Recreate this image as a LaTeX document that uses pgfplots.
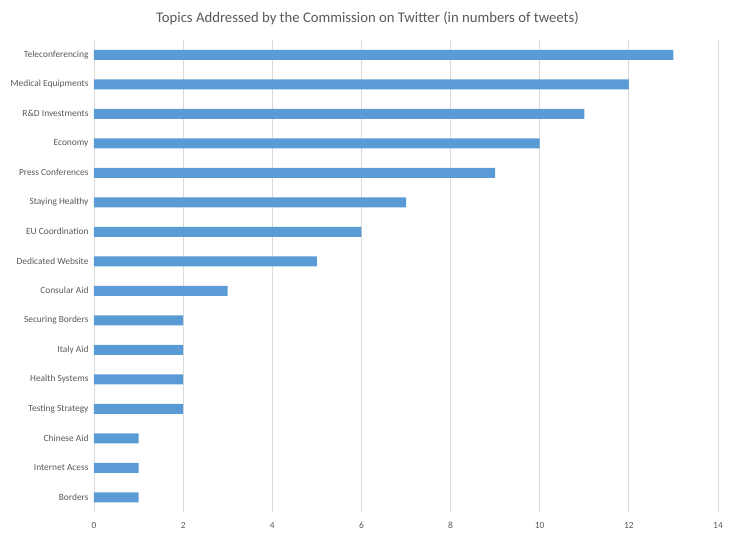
\documentclass[border=0pt]{standalone}
\usepackage{pgfplots}
\pgfplotsset{compat=1.18}
\usepackage{fontspec}
\setmainfont{Carlito}
\definecolor{barblue}{HTML}{5B9BD5}
\definecolor{txtgray}{HTML}{595959}
\definecolor{gridgray}{HTML}{D9D9D9}
\begin{document}
\begin{tikzpicture}
\useasboundingbox (-94pt,-26pt) rectangle (641pt,512pt);
\begin{axis}[
    at={(0,0)}, anchor=south west,
    scale only axis,
    width=624pt, height=472pt,
    xbar, bar width=10pt,
    xmin=0, xmax=14,
    xtick={0,2,...,14},
    ymin=-0.5, ymax=15.5,
    y dir=reverse,
    ytick={0,...,15},
    yticklabels={Teleconferencing, Medical Equipments, R\&D Investments, Economy, Press Conferences, Staying Healthy, EU Coordination, Dedicated Website, Consular Aid, Securing Borders, Italy Aid, Health Systems, Testing Strategy, Chinese Aid, Internet Acess, Borders},
    axis line style={draw=none},
    major tick length=0pt,
    xmajorgrids, grid style={gridgray, line width=0.8pt},
    ticklabel style={font=\fontsize{9.4}{10}\selectfont, text=txtgray},
    /pgf/number format/assume math mode=true,
    xticklabel style={yshift=-7pt},
    yticklabel style={xshift=-2pt},
]
\addplot[fill=barblue, draw=none] coordinates {
    (13,0) (12,1) (11,2) (10,3) (9,4) (7,5) (6,6) (5,7)
    (3,8) (2,9) (2,10) (2,11) (2,12) (1,13) (1,14) (1,15)
};
\end{axis}
\node[text=txtgray, font=\fontsize{14.7}{16}\selectfont] at (273.5pt,494pt) {Topics Addressed by the Commission on Twitter (in numbers of tweets)};
\end{tikzpicture}
\end{document}
